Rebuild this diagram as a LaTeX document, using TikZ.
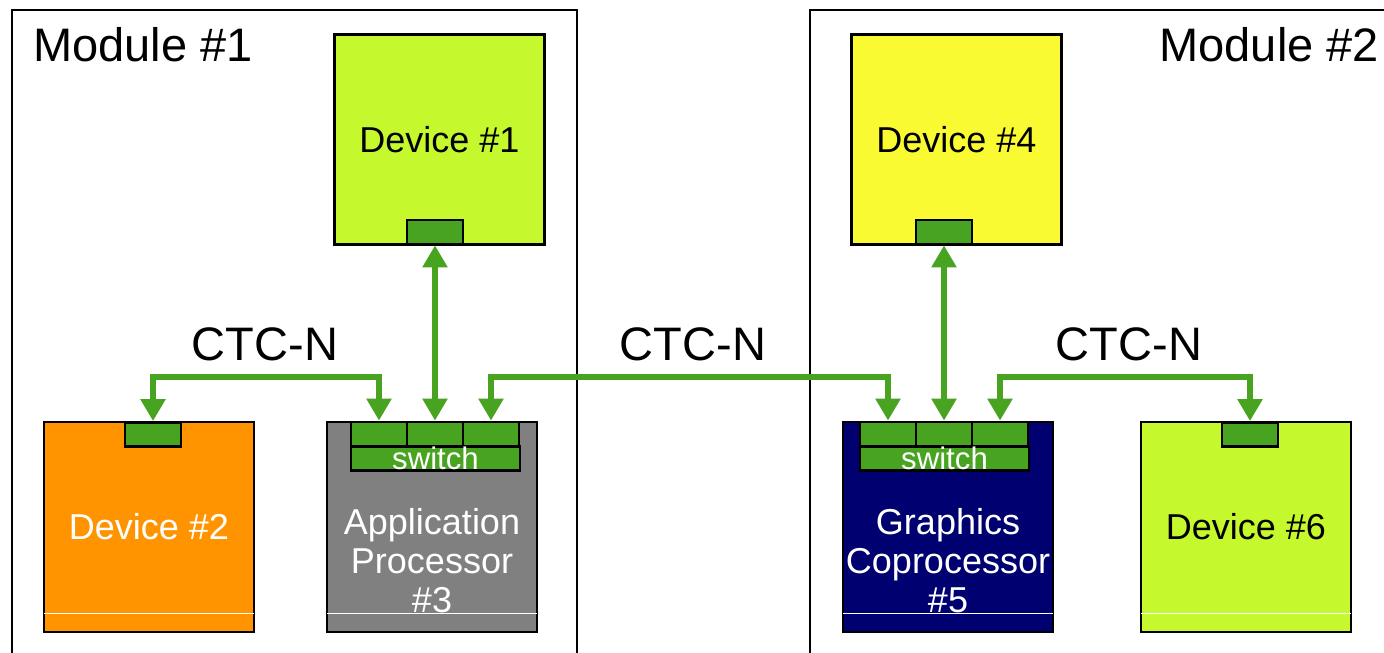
\documentclass[tikz,border=0pt]{standalone}
\usepackage{fontspec}
\setmainfont{Liberation Sans}
\usetikzlibrary{arrows.meta}
\definecolor{limedev}{RGB}{197,249,45}
\definecolor{yellowdev}{RGB}{250,250,50}
\definecolor{orangedev}{RGB}{255,148,0}
\definecolor{graydev}{RGB}{128,128,128}
\definecolor{navydev}{RGB}{0,0,112}
\definecolor{ctcgreen}{RGB}{72,164,32}
\begin{document}
\begin{tikzpicture}[x=0.5pt,y=-0.5pt,
 dev/.style={draw,line width=1.4pt,minimum width=105pt,minimum height=105pt,inner sep=0pt,
  font=\fontsize{18}{19.5}\selectfont},
 port/.style={draw,line width=1.4pt,fill=ctcgreen,minimum width=28pt,minimum height=12pt,inner sep=0pt},
 swbar/.style={port,minimum width=84.5pt,text=white,font=\fontsize{15.6}{16}\selectfont},
 link/.style={ctcgreen,line width=3pt,{Triangle[width=12pt,length=11pt]}-{Triangle[width=12pt,length=11pt]}},
 ctc/.style={anchor=base,font=\fontsize{23.5}{24}\selectfont},
 modlabel/.style={font=\fontsize{23.5}{24}\selectfont},
 baseline/.style={white,line width=0.5pt}]
\clip (0,0) rectangle (1384,652);
% modules
\draw[line width=1.4pt] (12,700) -- (12,10) -- (577,10) -- (577,700);
\draw[line width=1.4pt] (810,700) -- (810,10) -- (1420,10);
\node[modlabel,anchor=base west] (m1) at (26,62) {Module \#1};
\node[modlabel,anchor=base east] (m2) at (1386,62) {Module \#2};

% devices
\node[dev,fill=limedev] (d1) at (439.5,139.5) {Device \#1};
\node[dev,fill=yellowdev] (d4) at (956.5,139.5) {Device \#4};
\node[dev,fill=orangedev,text=white] (d2) at (149,527) {Device \#2};
\node[dev,fill=graydev] (d3) at (432,527) {};
\node[dev,fill=navydev] (d5) at (948,527) {};
\node[dev,fill=limedev] (d6) at (1246,527) {Device \#6};
\node[align=center,text=white,font=\fontsize{18}{19.5}\selectfont] (t3) at (432,561)
 {Application\\Processor\\\#3};
\node[align=center,text=white,font=\fontsize{18}{19.5}\selectfont] (t5) at (948,561)
 {Graphics\\Coprocessor\\\#5};
\foreach \d in {d2,d3,d5,d6}
 \draw[baseline] ([yshift=10pt,xshift=0.8pt]\d.south west) -- ([yshift=10pt,xshift=-0.8pt]\d.south east);

% ports
\node[port] (p1) at (435,232) {};
\node[port] (p4) at (944,232) {};
\node[port] (p2) at (153,434.5) {};
\node[port] (p6) at (1250,434.5) {};
\node[port] (s1) at (379,434) {};
\node[port] (s2) at (435,434) {};
\node[port] (s3) at (491,434) {};
\node[swbar] (sw3) at (435.5,458.5) {\raisebox{-3pt}{switch}};
\node[port] (g1) at (888,434) {};
\node[port] (g2) at (944,434) {};
\node[port] (g3) at (1000,434) {};
\node[swbar] (sw5) at (944.5,458.5) {\raisebox{-3pt}{switch}};

% links
\coordinate (bus) at (0,377);
\draw[link] (p2.north) -- (p2.north |- bus) -- (s1.north |- bus) -- (s1.north);
\draw[link] (p1.south) -- (s2.north);
\draw[link] (s3.north) -- (s3.north |- bus) -- (g1.north |- bus) -- (g1.north);
\draw[link] (p4.south) -- (g2.north);
\draw[link] (g3.north) -- (g3.north |- bus) -- (p6.north |- bus) -- (p6.north);
\node[ctc] (c1) at (265,360) {CTC-N};
\node[ctc] (c2) at (693,360) {CTC-N};
\node[ctc] (c3) at (1129,360) {CTC-N};
\end{tikzpicture}
\end{document}
